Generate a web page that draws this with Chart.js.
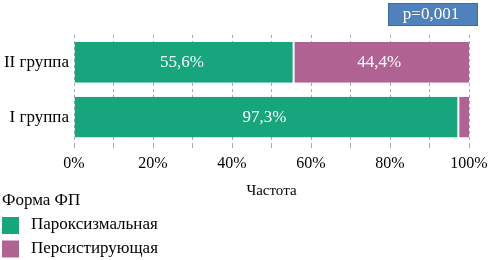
<!DOCTYPE html>
<html><head><meta charset="utf-8">
<script src="https://cdn.jsdelivr.net/npm/chart.js@4"></script>
<style>html,body{margin:0;padding:0;background:#fff}#w{width:489px;height:260px}</style>
</head><body><div id="w"><canvas id="c"></canvas></div>
<script>
const categories = ["II группа", "I группа"];
const paroxysmal = [55.6, 97.3];
const persistent = [44.4, 2.7];
const seriesNames = ["Пароксизмальная", "Персистирующая"];
const xTicks = [0, 20, 40, 60, 80, 100];
const legendTitle = "Форма ФП";
const axisTitle = "Частота";
const pValue = "p=0,001";

const GREEN = "#16a57d", PINK = "#b06393";
const FONT = "'Liberation Serif', 'DejaVu Serif', serif";

const fmt = v => v.toFixed(1).replace('.', ',') + '%';

const overlay = {
  id: 'overlay',
  afterDatasetsDraw(chart) {
    const ctx = chart.ctx;
    ctx.save();
    ctx.font = "17px " + FONT;
    ctx.fillStyle = "#fff";
    ctx.textAlign = "center";
    ctx.textBaseline = "middle";
    chart.data.datasets.forEach((ds, di) => {
      const meta = chart.getDatasetMeta(di);
      meta.data.forEach((bar, i) => {
        const v = ds.data[i];
        if (v < 10) return;
        const cx = (bar.x + bar.base) / 2 - 2;
        ctx.fillText(fmt(v), cx, bar.y);
      });
    });
    ctx.restore();
  },
  afterDraw(chart) {
    const ctx = chart.ctx;
    ctx.save();
    ctx.fillStyle = "#4f81bd";
    ctx.strokeStyle = "#3b6ea5";
    ctx.lineWidth = 1;
    ctx.fillRect(388, 3, 90, 23);
    ctx.strokeRect(388.5, 3.5, 89, 22);
    ctx.fillStyle = "#fff";
    ctx.font = "17px " + FONT;
    ctx.textAlign = "center";
    ctx.textBaseline = "middle";
    ctx.fillText(pValue, 431, 15);
    ctx.textAlign = "left";
    ctx.fillStyle = "#000";
    ctx.fillText(legendTitle, 2, 201);
    chart.data.datasets.forEach((ds, i) => {
      const y = 225 + i * 23.5;
      ctx.fillStyle = ds.backgroundColor;
      ctx.fillRect(2, y - 8, 17, 17);
      ctx.fillStyle = "#000";
      ctx.fillText(ds.label, 31, y);
    });
    ctx.restore();
  }
};

new Chart(document.getElementById('c'), {
  type: 'bar',
  data: {
    labels: categories,
    datasets: [
      { label: seriesNames[0], data: paroxysmal, backgroundColor: GREEN, borderColor: "#fff", borderWidth: {right: 1}, borderSkipped: false },
      { label: seriesNames[1], data: persistent, backgroundColor: PINK, borderColor: "#fff", borderWidth: {left: 1}, borderSkipped: false }
    ]
  },
  options: {
    indexAxis: 'y',
    responsive: true,
    maintainAspectRatio: false,
    animation: false,
    layout: { padding: { top: 35, right: 20, bottom: 60, left: 0 } },
    plugins: { legend: { display: false }, tooltip: { enabled: false } },
    datasets: { bar: { barPercentage: 0.743, categoryPercentage: 1 } },
    scales: {
      x: {
        stacked: true, min: 0, max: 100,
        ticks: { stepSize: 10, color: "#000", font: { family: FONT, size: 16 }, padding: 6,
          maxRotation: 0, autoSkip: false,
          callback: v => xTicks.includes(v) ? v + '%' : '' },
        grid: { color: "#aaaaaa", lineWidth: 1, drawTicks: true, tickLength: 4,
          borderDash: [3, 3], tickBorderDash: [3, 3], tickColor: "#aaaaaa" },
        border: { display: false, dash: [3, 3] },
        title: { display: true, text: axisTitle, color: "#000", font: { family: FONT, size: 15 }, padding: { top: 4, bottom: 0 } },
        afterFit: s => { s.paddingLeft = 0; s.paddingRight = 0; s.height = 55.5; }
      },
      y: {
        stacked: true,
        ticks: { color: "#000", font: { family: FONT, size: 17 }, padding: 5 },
        grid: { display: false, drawTicks: false },
        border: { display: false },
        afterFit: s => { s.width = 74; }
      }
    }
  },
  plugins: [overlay]
});
</script></body></html>
